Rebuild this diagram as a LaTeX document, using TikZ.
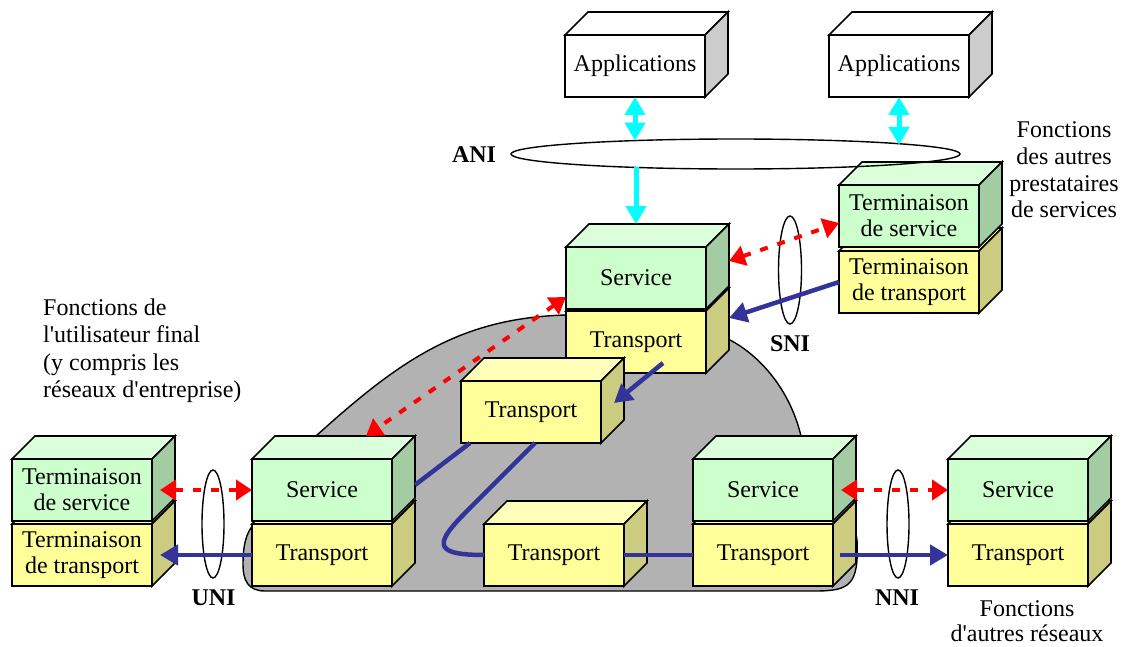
\documentclass[tikz,border=0pt]{standalone}
\usepackage{fontspec}
\newfontfamily\diafont{Liberation Serif}
\usetikzlibrary{arrows.meta,shapes.geometric,calc}

\definecolor{svcfront}{RGB}{204,255,204}
\definecolor{svctop}{RGB}{218,255,218}
\definecolor{svcside}{RGB}{163,204,163}
\definecolor{trpfront}{RGB}{255,255,153}
\definecolor{trptop}{RGB}{255,255,185}
\definecolor{trpside}{RGB}{204,204,128}
\definecolor{appside}{RGB}{204,204,204}
\definecolor{cloudgrey}{RGB}{178,178,178}
\definecolor{linkblue}{RGB}{51,51,153}
\definecolor{ifcyan}{RGB}{0,255,255}

\tikzset{
  boxedge/.style={draw=black, line width=1.6pt},
  boxface/.style={boxedge, minimum width=140pt, minimum height=62pt,
    inner sep=0pt, outer sep=0pt, anchor=north west, align=center,
    font=\diafont\fontsize{24}{26}\selectfont},
  iface/.style={ellipse, draw=black, line width=1.4pt, inner sep=0pt, outer sep=0pt},
  lbl/.style={font=\diafont\bfseries\fontsize{24}{26}\selectfont, inner sep=0pt, anchor=base},
  note/.style={inner sep=0pt},
  sigarrow/.style={draw=red, line width=4pt, dash pattern=on 8pt off 10pt,
    {Triangle[length=16pt,width=20pt]}-{Triangle[length=16pt,width=20pt]}},
  datalink/.style={draw=linkblue, line width=4.5pt},
  datarrow/.style={datalink, -{Triangle[length=18pt,width=20pt]}},
  cyanlink/.style={draw=ifcyan, line width=5pt},
  cyanboth/.style={cyanlink, {Triangle[length=18pt,width=20pt]}-{Triangle[length=18pt,width=20pt]}},
  cyanone/.style={cyanlink, -{Triangle[length=18pt,width=20pt]}},
}

% 3-D box: name, x, y (top-left of front face), front, top, side colours, label
\newcommand\cubebox[7]{%
  \draw[boxedge, fill=#5] (#2,#3) -- ++(23,-23) -- ++(140,0) -- ++(-23,23) -- cycle;
  \draw[boxedge, fill=#6] (#2+140,#3) -- ++(23,-23) -- ++(0,62) -- ++(-23,23) -- cycle;
  \node[boxface, fill=#4] (#1) at (#2,#3) {#7};
}

\begin{document}
\begin{tikzpicture}[x=1pt, y=-1pt]
\useasboundingbox (0,0) rectangle (1123,647);

% provider network area
\draw[fill=cloudgrey, draw=black, line width=1.4pt]
  (316,436) .. controls (400,360) and (460,318) .. (566,315)
  -- (728,339) .. controls (760,355) and (790,390) .. (801,436)
  -- (845,460) -- (857,540) .. controls (859,585) and (850,591) .. (815,591)
  -- (265,591) .. controls (248,591) and (243,580) .. (243,565)
  .. controls (243,545) and (246,533) .. (254,524) -- cycle;

% application boxes
\cubebox{app1}{565}{35}{white}{white}{appside}{Applications}
\cubebox{app2}{829}{35}{white}{white}{appside}{Applications}

% other service providers
\cubebox{ott}{839}{251}{trpfront}{trptop}{trpside}{Terminaison\\de transport}
\cubebox{ost}{839}{185}{svcfront}{svctop}{svcside}{Terminaison\\de service}

% core stack
\cubebox{ctrans}{566}{311}{trpfront}{trptop}{trpside}{Transport}
\cubebox{cserv}{566}{247}{svcfront}{svctop}{svcside}{Service}
\cubebox{mtrans}{461}{381}{trpfront}{trptop}{trpside}{Transport}

% end user
\cubebox{ltt}{12}{524}{trpfront}{trptop}{trpside}{Terminaison\\de transport}
\cubebox{lst}{12}{459}{svcfront}{svctop}{svcside}{Terminaison\\de service}

% edge of the network
\cubebox{ltrans}{252}{524}{trpfront}{trptop}{trpside}{Transport}
\cubebox{lserv}{252}{459}{svcfront}{svctop}{svcside}{Service}
\cubebox{btrans}{484}{524}{trpfront}{trptop}{trpside}{Transport}
\cubebox{rtrans}{693}{524}{trpfront}{trptop}{trpside}{Transport}
\cubebox{rserv}{693}{459}{svcfront}{svctop}{svcside}{Service}

% other networks
\cubebox{xtrans}{948}{524}{trpfront}{trptop}{trpside}{Transport}
\cubebox{xserv}{948}{459}{svcfront}{svctop}{svcside}{Service}

% interfaces
\node[iface, minimum width=449pt, minimum height=30pt] (ani) at (735.5,154) {};
\node[iface, minimum width=22pt, minimum height=108pt] (uni) at (213,524) {};
\node[iface, minimum width=23pt, minimum height=108pt] (sni) at (790,270) {};
\node[iface, minimum width=22pt, minimum height=108pt] (nni) at (898,524) {};

\node[lbl] (anilbl) at (474,163) {ANI};
\node[lbl] (unilbl) at (213.5,605) {UNI};
\node[lbl] (snilbl) at (790,351) {SNI};
\node[lbl] (nnilbl) at (897,605) {NNI};

% descriptive texts
\node[note, anchor=north west, align=left,
  font=\diafont\fontsize{24}{27.5}\selectfont] (usertext) at (43,298.6)
  {Fonctions de\\l'utilisateur final\\(y compris les\\réseaux d'entreprise)};
\node[note, anchor=north, align=center,
  font=\diafont\fontsize{24}{26.7}\selectfont] (provtext) at (1064,121.6)
  {Fonctions\\des autres\\prestataires\\de services};
\node[note, anchor=north, align=center,
  font=\diafont\fontsize{24}{25}\selectfont] (nettext) at (1027,600.6)
  {Fonctions\\d'autres réseaux};

% application network interface (ends on the ANI ellipse rim)
\draw[cyanboth] (app1.south) -- ($(app1.south |- ani.north)+(0,1.6)$);
\draw[cyanboth] (app2.south) -- ($(app2.south |- ani.north)+(0,5.8)$);
\draw[cyanone] ($(cserv.north |- ani.south)+(0,-1.6)$) -- ([yshift=23pt]cserv.north);

% user network interface
\draw[sigarrow] ([xshift=8pt]lst.east) -- (lserv.west);
\draw[datarrow] (ltrans.west) -- ([xshift=8pt]ltt.east);

% network to network interface
\draw[sigarrow] ([xshift=8pt]rserv.east) -- (xserv.west);
\draw[datarrow] ([xshift=7pt]rtrans.east) -- (xtrans.west);

% service node interface
\draw[sigarrow] ([shift={(23pt,17pt)}]cserv.east) -- ([yshift=-7pt]ost.west);
\draw[datarrow] (ott.west) -- ([shift={(23pt,24pt)}]ctrans.east);

% inside the provider network
\draw[sigarrow] ([yshift=12pt]cserv.south west) -- ([shift={(44pt,23pt)}]lserv.north);
\draw[datarrow] ([shift={(27pt,10pt)}]ctrans.south) -- ([shift={(13pt,9pt)}]mtrans.east);
\draw[datalink] ([shift={(23pt,5pt)}]lserv.east) -- ([xshift=9pt]mtrans.south west);
\draw[datalink] ([xshift=74pt]mtrans.south west) -- ++(-67,67)
  .. controls +(-32,32) and +(-54,0) .. (btrans.west);
\draw[datalink] (btrans.east) -- (rtrans.west);
\end{tikzpicture}
\end{document}
